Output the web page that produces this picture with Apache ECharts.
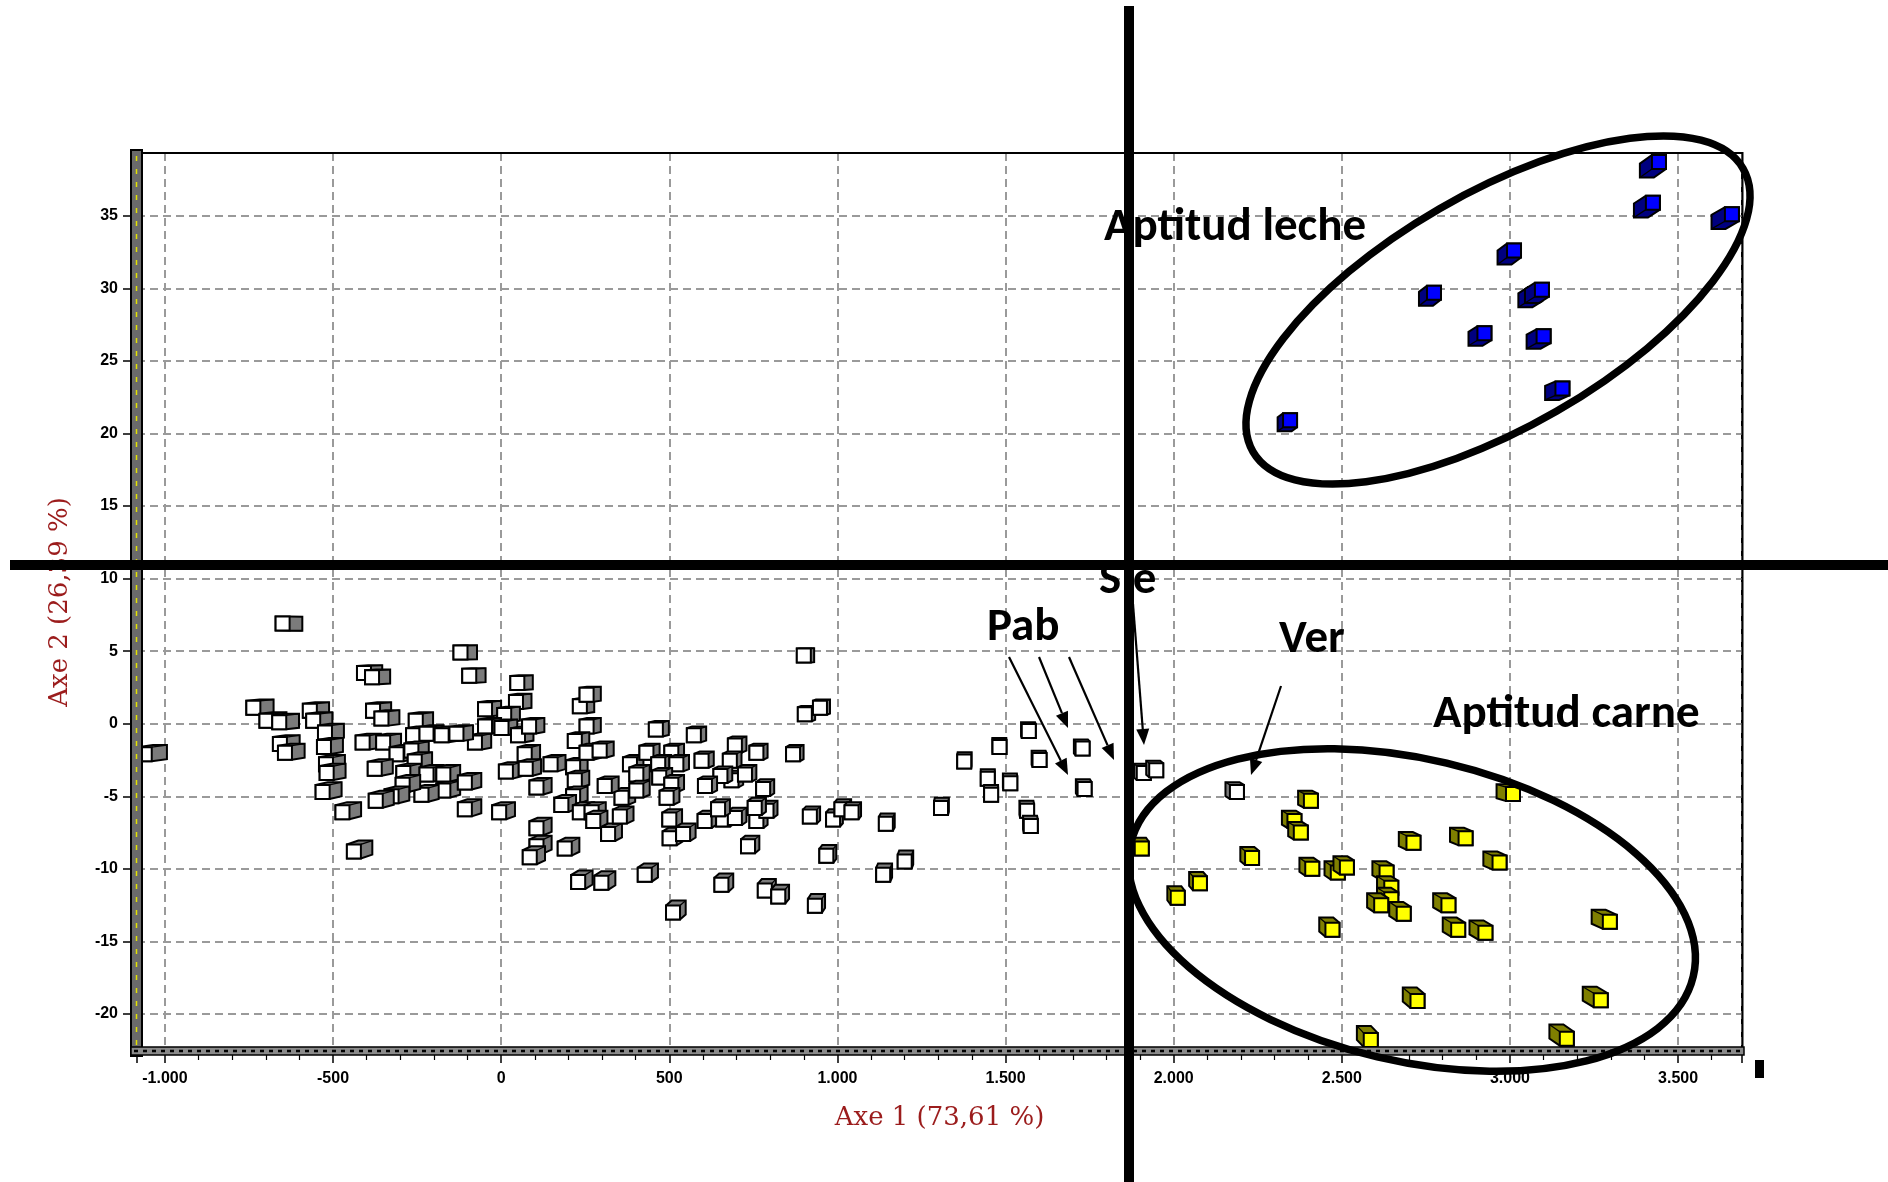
<!DOCTYPE html>
<html>
<head>
<meta charset="utf-8">
<script src="https://cdn.jsdelivr.net/npm/echarts@6/dist/echarts.min.js"></script>
<style>
html,body{margin:0;padding:0;background:#fff;}
#chart{width:1888px;height:1182px;}
</style>
</head>
<body>
<div id="chart"></div>
<script>
// ---------------- DATA ----------------
const xTickValues = [-1000, -500, 0, 500, 1000, 1500, 2000, 2500, 3000, 3500];
const xTickLabels = ['-1.000', '-500', '0', '500', '1.000', '1.500', '2.000', '2.500', '3.000', '3.500'];
const yTickValues = [-20, -15, -10, -5, 0, 5, 10, 15, 20, 25, 30, 35];
const yTickLabels = ['-20', '-15', '-10', '-5', '0', '5', '10', '15', '20', '25', '30', '35'];
const axisXTitle = 'Axe 1 (73,61 %)';
const axisYTitle = 'Axe 2 (26,39 %)';

// white / grey cubes (other breeds)
const otherPoints = [
  [-1060,-2.1],[-737,1.1],[-698,0.2],[-660,0.1],[-650,6.9],[-408,3.5],[-384,3.2],[-569,0.9],[-559,0.2],
  [-524,-0.6],[-527,-1.6],[-521,-2.8],[-519,-3.4],[-658,-1.4],[-643,-2.0],[-531,-4.7],[-472,-6.1],[-438,-8.8],
  [-381,0.9],[-356,0.35],[-412,-1.3],[-351,-1.3],[-311,-2.1],[-376,-3.1],[-254,0.2],[-262,-0.8],[-222,-0.7],
  [-267,-1.85],[-257,-2.6],[-291,-3.4],[-222,-3.5],[-177,-0.8],[-172,-4.6],[-237,-4.9],[-293,-4.2],[-326,-5.0],
  [-373,-5.3],[-172,-3.5],
  [-121,4.9],[-95,3.3],[48,2.8],[44,1.5],[-48,1.0],[9,0.6],[-48,-0.2],[1,-0.3],[50,-0.8],[83,-0.2],[-78,-1.3],
  [-133,-0.7],[70,-2.1],[14,-3.3],[73,-3.1],[105,-4.4],[147,-2.8],[214,-3.0],[219,-3.9],[214,-5.0],[179,-5.6],
  [234,-6.1],[269,-6.1],[274,-6.7],[318,-7.6],[353,-6.4],[358,-5.1],[308,-4.3],[383,-2.8],[234,1.2],[254,2.0],
  [254,-0.2],[219,-1.2],[254,-2.0],[293,-1.85],[-108,-4.05],[-108,-5.9],[-6,-6.1],[105,-7.2],[105,-8.45],
  [85,-9.2],[189,-8.6],[229,-10.9],[298,-10.95],
  [900,4.7],[903,0.65],[948,1.1],[460,-0.4],[573,-0.8],[432,-2.0],[506,-2.0],[467,-2.8],[521,-2.8],[596,-2.55],
  [695,-1.5],[759,-2.0],[680,-2.55],[685,-3.9],[652,-3.6],[725,-3.5],[606,-4.3],[779,-4.5],[402,-3.5],[402,-4.6],
  [470,-3.7],[506,-4.2],[492,-5.1],[500,-6.6],[501,-7.9],[541,-7.6],[605,-6.7],[660,-6.6],[695,-6.5],[759,-6.7],
  [789,-6.0],[645,-5.9],[754,-5.8],[918,-6.4],[734,-8.45],[967,-9.1],[427,-10.4],[655,-11.1],[784,-11.5],
  [824,-11.9],[933,-12.55],[511,-13.0],[868,-2.1],
  [987,-6.6],[1012,-5.9],[1042,-6.1],[1144,-6.9],[1136,-10.4],[1200,-9.5],
  [1569,-0.5],[1482,-1.6],[1377,-2.6],[1601,-2.5],[1729,-1.7],[1735,-4.5],[1447,-3.8],[1514,-4.1],[1457,-4.9],
  [1564,-6.0],[1575,-7.05],[1308,-5.8],[1911,-3.4],[1948,-3.2],[2188,-4.7]
];

// yellow cubes (Aptitud carne)
const carnePoints = [
  [1905,-8.6],[2012,-12.0],[2078,-11.0],[2233,-9.25],[2408,-5.3],[2359,-6.7],[2378,-7.5],[2412,-10.0],
  [2472,-14.2],[2488,-10.25],[2515,-9.9],[2633,-10.25],[2647,-11.3],[2647,-12.1],[2617,-12.5],[2684,-13.1],
  [2713,-8.2],[2868,-7.9],[3009,-4.85],[2969,-9.57],[2817,-12.5],[2846,-14.2],[2927,-14.4],[3297,-13.65],
  [2725,-19.1],[2586,-21.8],[3270,-19.05],[3169,-21.7]
];

// blue cubes (Aptitud leche)
const lechePoints = [
  [2346,20.9],[2774,29.7],[2924,26.9],[3012,32.6],[3075,29.6],[3095,29.9],[3100,26.7],[3156,23.1],
  [3425,35.9],[3443,38.7],[3660,35.1]
];

const annotationTexts = ['Aptitud leche', 'Aptitud carne', 'Pab', 'Ver', 'Sie'];

// ---------------- RENDERING ----------------
const VIEW = [1450, 5.8];   // vanishing point of the pseudo-3D cubes (data units)
const DEPTH = 0.018;

function convexHull(pts) {
  const p = pts.slice().sort((a, b) => a[0] - b[0] || a[1] - b[1]);
  const cross = (o, a, b) => (a[0]-o[0])*(b[1]-o[1]) - (a[1]-o[1])*(b[0]-o[0]);
  const lower = [], upper = [];
  for (const q of p) { while (lower.length >= 2 && cross(lower[lower.length-2], lower[lower.length-1], q) <= 0) lower.pop(); lower.push(q); }
  for (let i = p.length - 1; i >= 0; i--) { const q = p[i]; while (upper.length >= 2 && cross(upper[upper.length-2], upper[upper.length-1], q) <= 0) upper.pop(); upper.push(q); }
  upper.pop(); lower.pop();
  return lower.concat(upper);
}

function cube(face, side, size) {
  return function (params, api) {
    const p = api.coord([api.value(0), api.value(1)]);
    const v = api.coord(VIEW);
    const dx = (v[0] - p[0]) * DEPTH, dy = (v[1] - p[1]) * DEPTH;
    const h = size / 2;
    const F = [[p[0]-h, p[1]-h], [p[0]+h, p[1]-h], [p[0]+h, p[1]+h], [p[0]-h, p[1]+h]];
    const B = F.map(c => [c[0] + dx, c[1] + dy]);
    const hull = convexHull(F.concat(B));
    const cx = p[0] + (dx >= 0 ? h : -h), cy = p[1] + (dy >= 0 ? h : -h);
    return {
      type: 'group',
      children: [
        { type: 'polygon', shape: { points: hull }, style: { fill: side, stroke: '#000', lineWidth: 2 } },
        { type: 'line', shape: { x1: cx, y1: cy, x2: cx + dx, y2: cy + dy }, style: { stroke: '#000', lineWidth: 1.3 } },
        { type: 'rect', shape: { x: p[0]-h, y: p[1]-h, width: size, height: size }, style: { fill: face, stroke: '#000', lineWidth: 2 } }
      ]
    };
  };
}

function fmt(values, labels) {
  return function (v) {
    const i = values.findIndex(t => Math.abs(t - v) < 1e-6);
    return i >= 0 ? labels[i] : '';
  };
}

function arrow(x1, y1, x2, y2) {
  const ang = Math.atan2(y2 - y1, x2 - x1);
  const L = 16, W = 6.5;
  const bx = x2 - L * Math.cos(ang), by = y2 - L * Math.sin(ang);
  const nx = -Math.sin(ang), ny = Math.cos(ang);
  return [
    { type: 'line', z: 100, shape: { x1: x1, y1: y1, x2: bx, y2: by }, style: { stroke: '#000', lineWidth: 2.2 } },
    { type: 'polygon', z: 100, shape: { points: [[x2, y2], [bx + nx*W, by + ny*W], [bx - nx*W, by - ny*W]] }, style: { fill: '#000' } }
  ];
}

const labelFont = "'Liberation Sans', Arial, sans-serif";
const annFont = "bold 47px Carlito, 'Liberation Sans Narrow', 'Open Sans', sans-serif";
function annText(txt, x, y) {
  return { type: 'text', z: 90, x: x, y: y,
    style: { text: txt, font: annFont, fill: '#000', textAlign: 'left', align: 'left', textVerticalAlign: 'middle', verticalAlign: 'middle' } };
}

const chart = echarts.init(document.getElementById('chart'), null, { renderer: 'canvas' });

const graphics = [
  // frame: solid top/right borders and hatched left/bottom bands
  { type: 'line', z: 49, shape: { x1: 137, y1: 153, x2: 1743, y2: 153 }, style: { stroke: '#000', lineWidth: 2 } },
  { type: 'line', z: 49, shape: { x1: 1742.5, y1: 152, x2: 1742.5, y2: 1051 }, style: { stroke: '#000', lineWidth: 2 } },
  { type: 'rect', z: 50, shape: { x: 131, y: 150, width: 11, height: 906 }, style: { fill: '#6a6a6a', stroke: '#000', lineWidth: 2 } },
  { type: 'line', z: 51, shape: { x1: 136.5, y1: 156, x2: 136.5, y2: 1050 }, style: { stroke: '#e2e200', lineWidth: 1.5, lineDash: [5, 8] } },
  { type: 'rect', z: 50, shape: { x: 131, y: 1047, width: 1613, height: 8 }, style: { fill: '#8a8a8a', stroke: '#000', lineWidth: 1.5 } },
  { type: 'line', z: 51, shape: { x1: 134, y1: 1051, x2: 1742, y2: 1051 }, style: { stroke: '#000', lineWidth: 2.5, lineDash: [4, 5] } },
  { type: 'rect', z: 50, shape: { x: 1755, y: 1060, width: 9, height: 18 }, style: { fill: '#000' } },
  // annotation texts
  annText(annotationTexts[0], 1104, 228),
  annText(annotationTexts[1], 1433, 715),
  annText(annotationTexts[2], 987, 628),
  annText(annotationTexts[3], 1279, 640),
  annText(annotationTexts[4], 1099, 581),
  // ellipses
  { type: 'ellipse', z: 95, x: 1498, y: 310, rotation: Math.PI / 6, shape: { cx: 0, cy: 0, rx: 283, ry: 117 }, style: { fill: 'none', stroke: '#000', lineWidth: 7.5 } },
  { type: 'ellipse', z: 95, x: 1412, y: 910, rotation: -0.232, shape: { cx: 0, cy: 0, rx: 289, ry: 151 }, style: { fill: 'none', stroke: '#000', lineWidth: 7.5 } },
  // quadrant lines
  { type: 'rect', z: 100, shape: { x: 1124, y: 6, width: 10, height: 1176 }, style: { fill: '#000' } },
  { type: 'rect', z: 100, shape: { x: 10, y: 560, width: 1878, height: 10 }, style: { fill: '#000' } }
].concat(
  arrow(1009, 657, 1068, 775),
  arrow(1039, 657, 1068, 728),
  arrow(1069, 657, 1114, 760),
  arrow(1133, 604, 1144, 745),
  arrow(1281, 686, 1251, 775)
);

const option = {
  animation: false,
  backgroundColor: '#fff',
  grid: { left: 137, right: 146, top: 153, bottom: 131, show: true, borderColor: '#000', borderWidth: 2, backgroundColor: 'transparent', containLabel: false, outerBoundsMode: 'none' },
  xAxis: {
    type: 'value', min: -1083, max: 3690, splitNumber: 10,
    axisLine: { show: false, onZero: false },
    axisTick: { show: true, length: 12, lineStyle: { color: '#000', width: 1.5 } },
    minorTick: { show: true, splitNumber: 5, length: 9, lineStyle: { color: '#000', width: 1.2 } },
    axisLabel: { showMinLabel: false, showMaxLabel: false, margin: 20, color: '#000', fontFamily: labelFont, fontSize: 16, fontWeight: 'bold', formatter: fmt(xTickValues, xTickLabels) },
    splitLine: { show: true, lineStyle: { color: '#9a9a9a', width: 2, type: [8, 5] } },
    name: axisXTitle, nameLocation: 'middle', nameGap: 54,
    nameTextStyle: { fontFamily: "'DejaVu Serif', serif", fontSize: 26, color: '#9b1c1c' }
  },
  yAxis: {
    type: 'value', min: -22.55, max: 39.32, splitNumber: 12,
    axisLine: { show: false, onZero: false },
    axisTick: { show: true, length: 14, lineStyle: { color: '#000', width: 1.5 } },
    axisLabel: { showMinLabel: false, showMaxLabel: false, margin: 19, color: '#000', fontFamily: labelFont, fontSize: 16, fontWeight: 'bold', formatter: fmt(yTickValues, yTickLabels) },
    splitLine: { show: true, lineStyle: { color: '#9a9a9a', width: 2, type: [8, 5] } },
    name: axisYTitle, nameLocation: 'middle', nameGap: 64, nameRotate: 90,
    nameTextStyle: { fontFamily: "'DejaVu Serif', serif", fontSize: 26, color: '#9b1c1c' }
  },
  series: [
    { name: 'Otras', type: 'custom', renderItem: cube('#ffffff', '#7b7b7b', 14), data: otherPoints, encode: { x: 0, y: 1 }, clip: false, z: 3 },
    { name: 'Aptitud carne', type: 'custom', renderItem: cube('#ffff00', '#7f7f00', 14), data: carnePoints, encode: { x: 0, y: 1 }, clip: false, z: 3 },
    { name: 'Aptitud leche', type: 'custom', renderItem: cube('#0000ff', '#000080', 14), data: lechePoints, encode: { x: 0, y: 1 }, clip: false, z: 3 }
  ],
  graphic: graphics
};
chart.setOption(option);
</script>
</body>
</html>
